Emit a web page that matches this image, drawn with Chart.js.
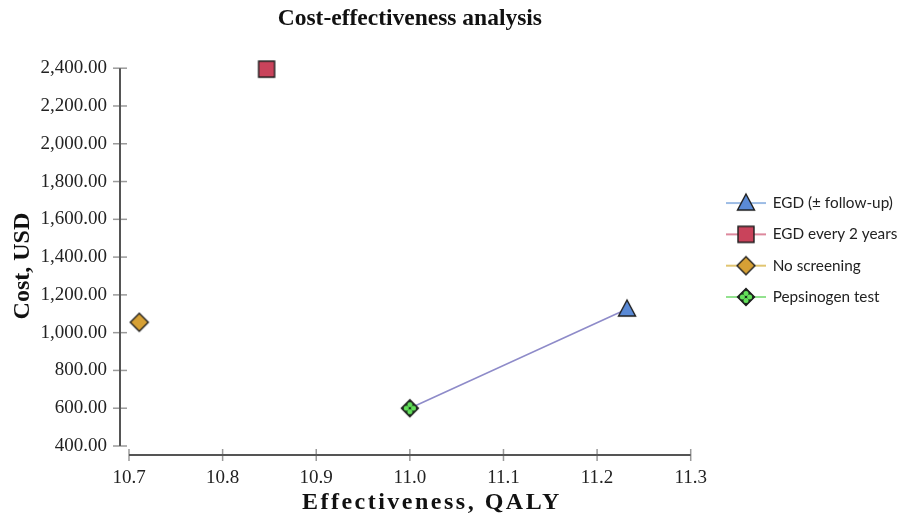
<!DOCTYPE html>
<html>
<head>
<meta charset="utf-8">
<script src="https://cdn.jsdelivr.net/npm/chart.js@4.4.1/dist/chart.umd.min.js"></script>
<style>
  html, body { margin: 0; padding: 0; background: #fff; }
  #wrap { width: 904px; height: 520px; }
</style>
</head>
<body>
<div id="wrap"><canvas id="cea"></canvas></div>
<script>
// ---------- DATA ----------
const strategies = ["EGD (\u00b1 follow-up)", "EGD every 2 years", "No screening", "Pepsinogen test"];
const effectiveness = [11.232, 10.847, 10.711, 11.0];   // QALY
const cost = [1125, 2395, 1055, 600];                  // USD
const frontier = [3, 0];                               // pepsinogen -> EGD
const xTicks = [10.7, 10.8, 10.9, 11.0, 11.1, 11.2, 11.3];
const yTicks = [400, 600, 800, 1000, 1200, 1400, 1600, 1800, 2000, 2200, 2400];

const kinds = ["triangle", "square", "diamond", "pepsi"];
const lineColors = ["#7da6dc", "#d2607c", "#d7b242", "#6fd86a"];
const SERIF = "'Liberation Serif', 'Times New Roman', serif";

// ---------- MARKERS ----------
function drawShape(ctx, kind, cx, cy) {
  ctx.lineWidth = 1.4;
  ctx.strokeStyle = "#1e1e1e";
  ctx.beginPath();
  if (kind === "triangle") {
    ctx.moveTo(cx, cy - 9);
    ctx.lineTo(cx + 8.5, cy + 7);
    ctx.lineTo(cx - 8.5, cy + 7);
    ctx.closePath();
    ctx.fillStyle = "#5a8ad6";
    ctx.fill(); ctx.stroke();
  } else if (kind === "square") {
    ctx.rect(cx - 8, cy - 8, 16, 16);
    ctx.fillStyle = "#c9435b";
    ctx.fill(); ctx.stroke();
  } else if (kind === "diamond") {
    ctx.moveTo(cx, cy - 9); ctx.lineTo(cx + 9, cy);
    ctx.lineTo(cx, cy + 9); ctx.lineTo(cx - 9, cy);
    ctx.closePath();
    ctx.fillStyle = "#d6a035";
    ctx.fill(); ctx.stroke();
  } else {
    ctx.moveTo(cx, cy - 8.5); ctx.lineTo(cx + 8.5, cy);
    ctx.lineTo(cx, cy + 8.5); ctx.lineTo(cx - 8.5, cy);
    ctx.closePath();
    ctx.fillStyle = "#17301a";
    ctx.fill(); ctx.stroke();
    ctx.fillStyle = "#63e05a";
    [[0, -3.6], [3.6, 0], [0, 3.6], [-3.6, 0]].forEach(([dx, dy]) => {
      ctx.beginPath();
      ctx.arc(cx + dx, cy + dy, 2.5, 0, Math.PI * 2);
      ctx.fill();
    });
  }
}

function makeIcon(kind, lineColor) {
  const c = document.createElement("canvas");
  const w = lineColor ? 44 : 22;
  c.width = w; c.height = 22;
  const ctx = c.getContext("2d");
  if (lineColor) {
    ctx.strokeStyle = lineColor;
    ctx.lineWidth = 1.5;
    ctx.beginPath(); ctx.moveTo(2, 11); ctx.lineTo(w - 2, 11); ctx.stroke();
  }
  drawShape(ctx, kind, w / 2, 11);
  return c;
}

const pointIcons = kinds.map(k => makeIcon(k));
const legendIcons = kinds.map((k, i) => makeIcon(k, lineColors[i]));

// ---------- AXES (offset, drawn from the scales) ----------
const offsetAxes = {
  id: "offsetAxes",
  afterLayout(chart) {
    // legend sits a little right of the plot, raised a bit
    const lg = chart.legend;
    lg.left = 711;
    lg.right = chart.width;
    lg.width = lg.right - lg.left;
    lg.bottom -= 20;
    lg.height = lg.bottom - lg.top;
  },
  beforeDraw(chart) {
    const { x, y } = chart.scales;
    if (!x._patched) {
      const ox = x.drawTitle.bind(x);
      x.drawTitle = function () {
        const c = this.ctx; c.save(); c.letterSpacing = "2.5px"; c.translate(22, 0); ox(); c.restore();
      };
      const oy = y.drawTitle.bind(y);
      y.drawTitle = function () {
        const c = this.ctx; c.save(); c.translate(0, 9); oy(); c.restore();
      };
      x._patched = true;
    }
  },
  beforeDatasetsDraw(chart) {
    const { ctx, chartArea: a } = chart;
    const { x, y } = chart.scales;
    const ax = a.left - 9, ay = a.bottom + 9;
    ctx.save();
    ctx.strokeStyle = "#9a9a9a";
    ctx.lineWidth = 1.5;
    y.ticks.forEach(t => {
      const py = y.getPixelForValue(t.value);
      ctx.beginPath(); ctx.moveTo(ax - 7, py); ctx.lineTo(ax + 7, py); ctx.stroke();
    });
    x.ticks.forEach(t => {
      const px = x.getPixelForValue(t.value);
      ctx.beginPath(); ctx.moveTo(px, ay - 6); ctx.lineTo(px, ay + 6); ctx.stroke();
    });
    ctx.strokeStyle = "#555";
    ctx.lineWidth = 2;
    ctx.beginPath();
    ctx.moveTo(ax, y.getPixelForValue(y.max));
    ctx.lineTo(ax, y.getPixelForValue(y.min));
    ctx.moveTo(x.getPixelForValue(x.min), ay);
    ctx.lineTo(x.getPixelForValue(x.max), ay);
    ctx.stroke();
    ctx.restore();
  }
};

// ---------- CHART ----------
const datasets = strategies.map((name, i) => ({
  label: name,
  data: [{ x: effectiveness[i], y: cost[i] }],
  pointStyle: pointIcons[i],
  pointRadius: 9,
  clip: false
}));
datasets.push({
  label: "frontier",
  data: frontier.map(i => ({ x: effectiveness[i], y: cost[i] })),
  showLine: true,
  borderColor: "#8e8bc9",
  borderWidth: 1.5,
  pointRadius: 0,
  clip: false
});

new Chart(document.getElementById("cea"), {
  type: "scatter",
  data: { datasets },
  plugins: [offsetAxes],
  options: {
    responsive: true,
    maintainAspectRatio: false,
    animation: false,
    layout: { padding: { right: 17 } },
    plugins: {
      tooltip: { enabled: false },
      title: {
        display: true,
        text: "Cost-effectiveness analysis",
        fullSize: false,
        color: "#111",
        font: { family: SERIF, size: 23.5, weight: "bold" },
        padding: { top: 5, bottom: 35 }
      },
      legend: {
        position: "right",
        labels: {
          usePointStyle: true,
          pointStyleWidth: 38,
          boxHeight: 15,
          padding: 16,
          color: "#222",
          font: { family: "Lato", size: 15.3 },
          generateLabels: () => strategies.map((name, i) => ({
            text: name,
            pointStyle: legendIcons[i],
            datasetIndex: i,
            fontColor: "#222",
            lineWidth: 0,
            strokeStyle: "transparent",
            fillStyle: "transparent",
            hidden: false
          }))
        },
        onClick: () => {}
      }
    },
    scales: {
      x: {
        type: "linear",
        min: xTicks[0],
        max: xTicks[xTicks.length - 1],
        afterBuildTicks: s => { s.ticks = xTicks.map(v => ({ value: v })); },
        afterFit: s => { s.height = 74; },
        grid: { display: false },
        border: { display: false },
        ticks: {
          padding: 13,
          color: "#222",
          font: { family: SERIF, size: 19 },
          callback: v => v.toFixed(1)
        },
        title: {
          display: true,
          text: "Effectiveness, QALY",
          color: "#111",
          font: { family: SERIF, size: 24, weight: "bold" },
          padding: { top: 0, bottom: 3 }
        }
      },
      y: {
        type: "linear",
        min: yTicks[0],
        max: yTicks[yTicks.length - 1],
        afterBuildTicks: s => { s.ticks = yTicks.map(v => ({ value: v })); },
        afterFit: s => { s.width = 129; },
        grid: { display: false },
        border: { display: false },
        ticks: {
          padding: 14,
          color: "#222",
          font: { family: SERIF, size: 19 },
          callback: v => v.toLocaleString("en-US", { minimumFractionDigits: 2, maximumFractionDigits: 2 })
        },
        title: {
          display: true,
          text: "Cost, USD",
          color: "#111",
          font: { family: SERIF, size: 24, weight: "bold" },
          padding: { top: 8, bottom: 0 }
        }
      }
    }
  }
});
</script>
</body>
</html>
